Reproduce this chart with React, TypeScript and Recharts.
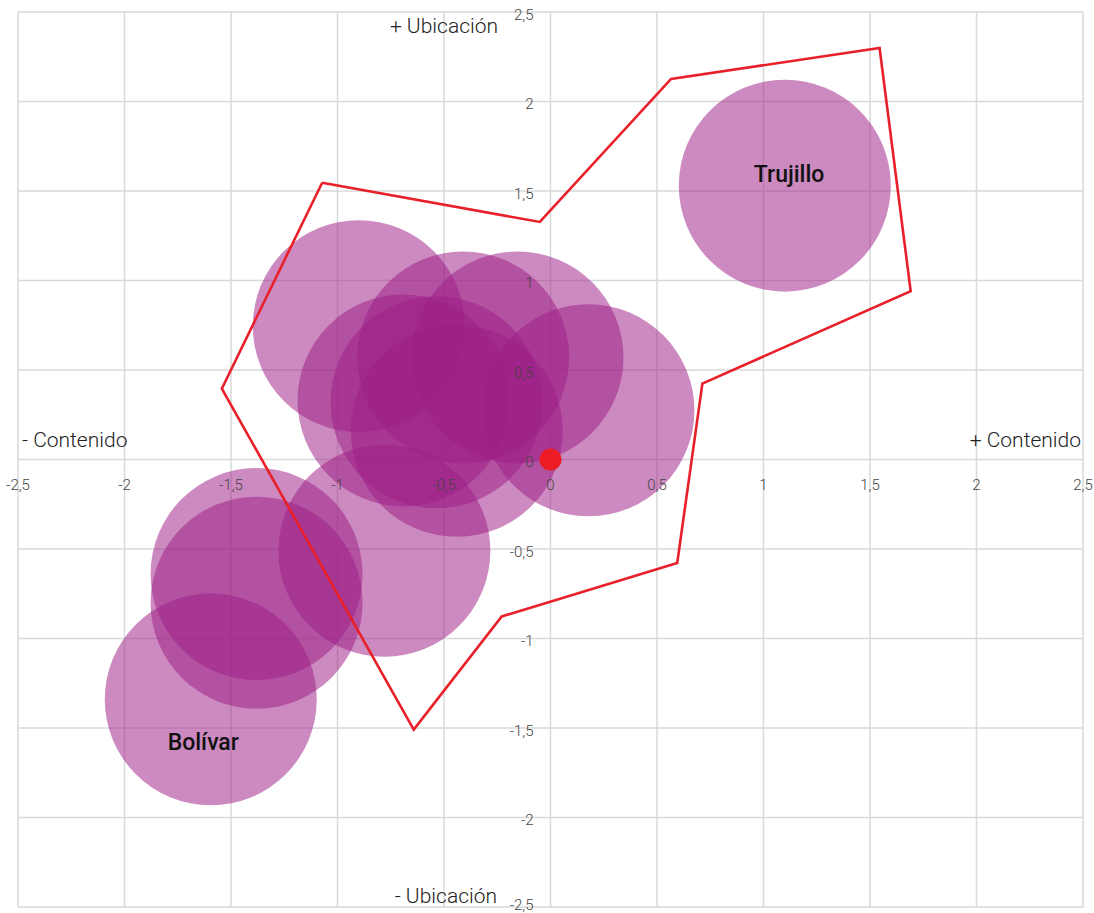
import { CartesianGrid, LabelList, Scatter, ScatterChart, XAxis, YAxis } from "recharts";

const xTicks = [-2.5, -2, -1.5, -1, -0.5, 0, 0.5, 1, 1.5, 2, 2.5];
const yTicks = [-2.5, -2, -1.5, -1, -0.5, 0, 0.5, 1, 1.5, 2, 2.5];

// bubble centres (contenido, ubicación)
const bubbleX = [1.1, -1.595, -0.9, -0.41, -0.155, -0.69, 0.178, -0.535, -0.44, -0.78, -1.38, -1.38];
const bubbleY = [1.53, -1.34, 0.745, 0.57, 0.57, 0.33, 0.275, 0.32, 0.16, -0.51, -0.64, -0.8];

// closed red outline
const polygonX = [-1.072, -0.05, 0.566, 1.545, 1.691, 0.713, 0.595, -0.229, -0.642, -1.543, -1.072];
const polygonY = [1.546, 1.327, 2.126, 2.299, 0.94, 0.424, -0.578, -0.877, -1.509, 0.396, 1.546];

const originX = [0];
const originY = [0];

const labelNames = ["Trujillo", "Bolívar"];
const labelX = [1.12, -1.63];
const labelY = [1.595, -1.58];

const bubbles = bubbleX.map((x, i) => ({ x, y: bubbleY[i] }));
const outline = polygonX.map((x, i) => ({ x, y: polygonY[i] }));
const origin = originX.map((x, i) => ({ x, y: originY[i] }));
const labels = labelNames.map((name, i) => ({ name, x: labelX[i], y: labelY[i] }));

const W = 1094;
const H = 913;
const margin = { top: 12, right: 11, bottom: 5, left: 17 };
const X0 = 18 + (1083 - 18) / 2;
const Y0 = 12 + (907 - 12) / 2;

const font = "Roboto, 'DejaVu Sans', sans-serif";
const fmt = (v: number) => String(v).replace(".", ",");

const XTick = (props: any) => (
  <text x={props.x} y={Y0 + 30} textAnchor="middle" fontFamily={font} fontWeight={300} fontSize={15} fill="#444">
    {fmt(props.payload.value)}
  </text>
);

const YTick = (props: any) => (
  <text
    x={X0 - 17}
    y={Math.min(props.y + 7.5, H - 3)}
    textAnchor="end"
    fontFamily={font}
    fontWeight={300}
    fontSize={15}
    fill="#444"
  >
    {fmt(props.payload.value)}
  </text>
);

const Bubble = (p: any) => <circle cx={p.cx} cy={p.cy} r={106} fill="#9e1f86" fillOpacity={0.52} />;
const OriginDot = (p: any) => <circle cx={p.cx} cy={p.cy} r={11} fill="#ec1c24" />;
const Nothing = () => <g />;

const titleStyle = { fontFamily: font, fontWeight: 300, fontSize: 21, fill: "#222" };

export default function App() {
  return (
    <div style={{ position: "absolute", left: 0, top: 0, width: W, height: H, background: "#fff" }}>
      <ScatterChart width={W} height={H} margin={margin}>
        <CartesianGrid stroke="#d9d9d9" strokeWidth={1.5} fill="none" />
        <XAxis
          type="number"
          dataKey="x"
          domain={[-2.5, 2.5]}
          ticks={xTicks}
          interval={0}
          height={1}
          axisLine={false}
          tickLine={false}
          tick={XTick}
          allowDataOverflow
        />
        <YAxis
          type="number"
          dataKey="y"
          domain={[-2.5, 2.5]}
          ticks={yTicks}
          interval={0}
          width={1}
          axisLine={false}
          tickLine={false}
          tick={YTick}
          allowDataOverflow
        />
        <Scatter data={bubbles} shape={Bubble} isAnimationActive={false} />
        <Scatter
          data={outline}
          line={{ stroke: "#e8202a", strokeWidth: 2.6 }}
          shape={Nothing}
          isAnimationActive={false}
        />
        <Scatter data={origin} shape={OriginDot} isAnimationActive={false} />
        <Scatter data={labels} shape={Nothing} isAnimationActive={false}>
          <LabelList dataKey="name" position="center" fill="#111" fontFamily={font} fontWeight={500} fontSize={23} />
        </Scatter>
      </ScatterChart>
      <svg width={W} height={H} style={{ position: "absolute", left: 0, top: 0, pointerEvents: "none" }}>
        <text x={498} y={32.5} textAnchor="end" {...titleStyle}>+ Ubicación</text>
        <text x={497} y={903} textAnchor="end" {...titleStyle}>- Ubicación</text>
        <text x={22} y={447} textAnchor="start" {...titleStyle}>- Contenido</text>
        <text x={1081} y={447} textAnchor="end" {...titleStyle}>+ Contenido</text>
      </svg>
    </div>
  );
}
